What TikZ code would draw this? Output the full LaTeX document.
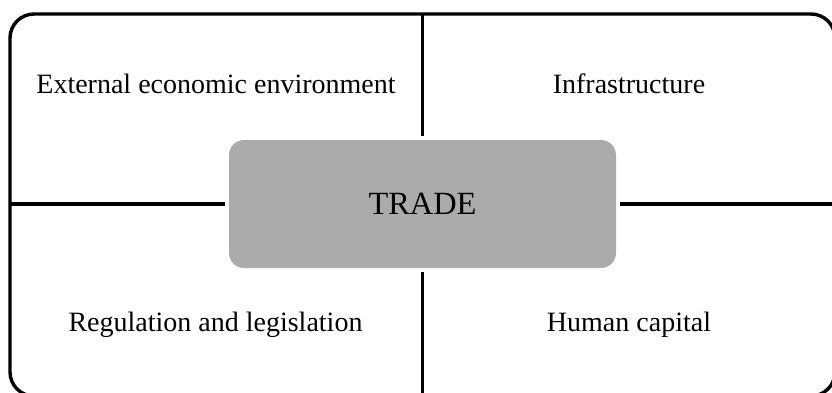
\documentclass[tikz,border=0pt]{standalone}
\usepackage{fontspec}
\setmainfont{Liberation Serif}
\definecolor{tradegray}{HTML}{ABABAB}
\tikzset{
  factor/.style={font=\fontsize{14}{17}\selectfont},
  bar/.style={line width=1.6pt},
}
\begin{document}
\begin{tikzpicture}[x=0.5pt,y=-0.5pt]
\useasboundingbox (0,0) rectangle (832,392);
\draw [line width=1.7pt,rounded corners=12pt] (10,14) rectangle (835,396) ;
\node [fill=tradegray,rounded corners=7.5pt,minimum width=193.5pt,minimum height=64pt,
  outer sep=2.2pt,font=\fontsize{16.2}{19}\selectfont] (trade) at (422.5,204) {TRADE} ;
\coordinate (top) at (422.5,14) ;
\coordinate (bottom) at (422.5,396) ;
\coordinate (left) at (10,204) ;
\coordinate (right) at (835,204) ;
\draw [bar] (top) -- (trade.north) ;
\draw [bar] (trade.south) -- (bottom) ;
\draw [bar] (left) -- (trade.west) ;
\draw [bar] (trade.east) -- (right) ;
\node [factor] (external) at (216,84) {External economic environment} ;
\node [factor] (infra) at (629,84) {Infrastructure} ;
\node [factor] (regulation) at (215.5,325) {Regulation and legislation} ;
\node [factor] (human) at (629,325) {Human capital} ;
\end{tikzpicture}
\end{document}
